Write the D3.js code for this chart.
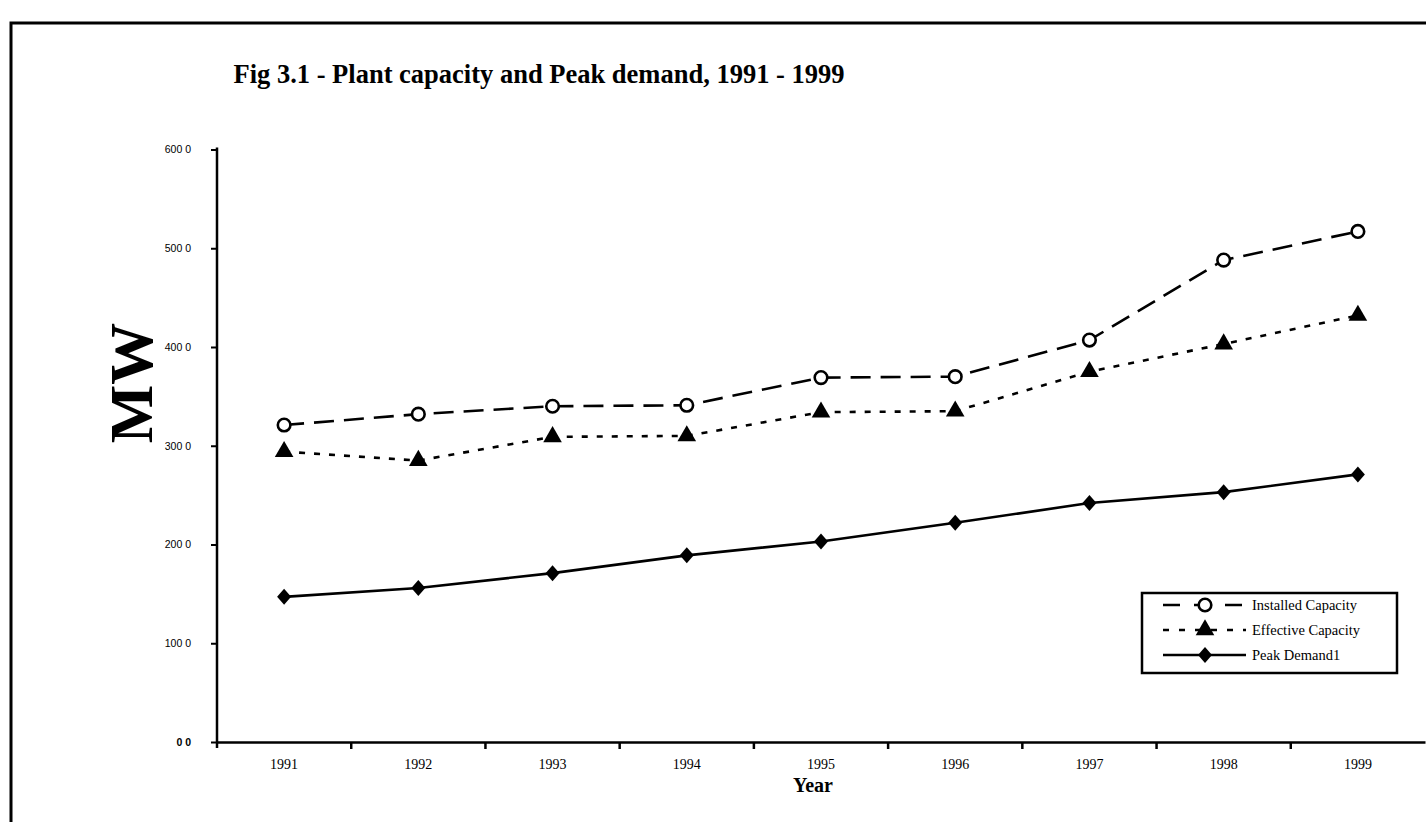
<!DOCTYPE html>
<html>
<head>
<meta charset="utf-8">
<script src="https://cdn.jsdelivr.net/npm/d3@7/dist/d3.min.js"></script>
<style>
  html, body { margin: 0; padding: 0; background: #fff; }
  svg { display: block; }
</style>
</head>
<body>
<svg id="chart" width="1426" height="822"></svg>
<script>
// ---- Data ----
const years = ["1991","1992","1993","1994","1995","1996","1997","1998","1999"];
const installedCapacity = [321, 332, 340, 341, 369, 370, 407, 488, 517];
const effectiveCapacity = [294, 285, 309, 310, 334, 335, 375, 403, 432];
const peakDemand        = [147, 156, 171, 189, 203, 222, 242, 253, 271];
const yTickValues = [0, 100, 200, 300, 400, 500, 600];
const yTickLabels = ["0 0", "100 0", "200 0", "300 0", "400 0", "500 0", "600 0"];
const seriesNames = ["Installed Capacity", "Effective Capacity", "Peak Demand1"];
const titleText = "Fig 3.1 - Plant capacity and Peak demand, 1991 - 1999";
const xTitle = "Year";
const yTitle = "MW";

// ---- Setup ----
const svg = d3.select("#chart");
const serif = "'Liberation Serif', 'Times New Roman', serif";

// outer frame (right and bottom edges fall outside the page)
svg.append("rect")
  .attr("x", 11).attr("y", 23).attr("width", 1440).attr("height", 840)
  .attr("fill", "none").attr("stroke", "#000").attr("stroke-width", 3);

const x = d3.scaleBand().domain(years).range([217, 1425]).padding(0);
const y = d3.scaleLinear().domain([0, 600]).range([742, 149.5]);
const cx = d => x(d) + x.bandwidth() / 2;

// title
svg.append("text")
  .attr("x", 539).attr("y", 83)
  .attr("text-anchor", "middle")
  .attr("font-family", serif).attr("font-weight", "bold").attr("font-size", 26.5)
  .text(titleText);

// y axis
const yAxis = svg.append("g").attr("transform", "translate(217,0)")
  .call(d3.axisLeft(y).tickValues(yTickValues).tickSize(6).tickSizeOuter(0)
        .tickFormat((d, i) => yTickLabels[i]));
yAxis.select(".domain").attr("stroke-width", 2.5).attr("d", `M0,${y(600) - 2}V${y(0)}`);
yAxis.selectAll(".tick line").attr("stroke-width", 2);
yAxis.selectAll(".tick text")
  .attr("x", -26)
  .attr("font-family", "'Liberation Sans', Arial, sans-serif")
  .attr("font-size", 10.5).attr("fill", "#000");
yAxis.selectAll(".tick").filter(d => d === 0).select("text").attr("font-weight", "bold");

// x axis
const xAxis = svg.append("g").attr("transform", `translate(0,${y(0)})`)
  .call(d3.axisBottom(x).tickSize(0).tickSizeOuter(0));
xAxis.select(".domain").attr("stroke-width", 2.5);
xAxis.selectAll(".tick text")
  .attr("dy", 0).attr("y", 27)
  .attr("font-family", serif).attr("font-size", 14).attr("fill", "#000");
// boundary tick marks between categories
xAxis.selectAll("line.bound")
  .data(years)
  .enter().append("line").attr("class", "bound")
  .attr("x1", d => x(d)).attr("x2", d => x(d))
  .attr("y1", 0).attr("y2", (d, i) => i === 0 ? 6 : 7)
  .attr("stroke", "#000").attr("stroke-width", 2.5);

// axis titles
svg.append("text")
  .attr("x", 813).attr("y", 792)
  .attr("text-anchor", "middle")
  .attr("font-family", serif).attr("font-weight", "bold").attr("font-size", 20)
  .text(xTitle);

svg.append("text")
  .attr("transform", "translate(152,383) rotate(-90)")
  .attr("text-anchor", "middle")
  .attr("font-family", serif).attr("font-weight", "bold").attr("font-size", 62)
  .text(yTitle);

// ---- Series ----
const line = d3.line().x((d, i) => cx(years[i])).y(d => y(d));
const seriesData = [installedCapacity, effectiveCapacity, peakDemand];
const dashes = ["20,10", "6,9", null];

seriesData.forEach((vals, k) => {
  svg.append("path")
    .datum(vals)
    .attr("d", line)
    .attr("fill", "none").attr("stroke", "#000").attr("stroke-width", 2.6)
    .attr("stroke-dasharray", dashes[k]);
});

function drawMarker(g, k, px, py) {
  if (k === 0) {
    g.append("circle").attr("cx", px).attr("cy", py).attr("r", 6.3)
      .attr("fill", "#fff").attr("stroke", "#000").attr("stroke-width", 2.6);
  } else if (k === 1) {
    g.append("path")
      .attr("d", d3.symbol().type(d3.symbolTriangle).size(150)())
      .attr("transform", `translate(${px},${py})`)
      .attr("fill", "#000");
  } else {
    g.append("path")
      .attr("d", `M0,-8L7,0L0,8L-7,0Z`)
      .attr("transform", `translate(${px},${py})`)
      .attr("fill", "#000");
  }
}

const markers = svg.append("g");
seriesData.forEach((vals, k) => {
  vals.forEach((v, i) => drawMarker(markers, k, cx(years[i]), y(v)));
});

// ---- Legend ----
const legend = svg.append("g");
legend.append("rect")
  .attr("x", 1142).attr("y", 593).attr("width", 255).attr("height", 80)
  .attr("fill", "#fff").attr("stroke", "#000").attr("stroke-width", 2.5);
const rowY = [605, 630, 655];
seriesNames.forEach((name, k) => {
  legend.append("line")
    .attr("x1", 1163).attr("x2", 1246).attr("y1", rowY[k]).attr("y2", rowY[k])
    .attr("stroke", "#000").attr("stroke-width", 2.6)
    .attr("stroke-dasharray", k === 0 ? "17,14" : (k === 1 ? "6,10" : null));
  drawMarker(legend, k, 1205, rowY[k]);
  legend.append("text")
    .attr("x", 1252).attr("y", rowY[k] + 5)
    .attr("font-family", serif).attr("font-size", 14.5).attr("fill", "#000")
    .text(name);
});
</script>
</body>
</html>
